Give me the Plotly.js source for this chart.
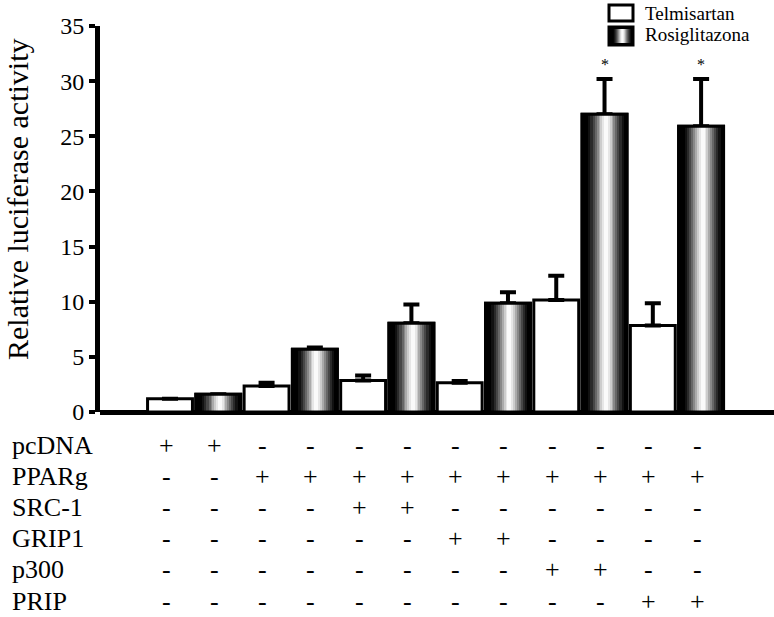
<!DOCTYPE html>
<html>
<head>
<meta charset="utf-8">
<script src="https://cdn.plot.ly/plotly-3.0.1.min.js"></script>
<style>html,body{margin:0;padding:0;background:#fff;}#chart{width:774px;height:617px;}</style>
</head>
<body>
<div id="chart"></div>
<script>
// ---- data ----
const positions = [1,2,3,4,5,6,7,8,9,10,11,12];
const telmiX = [1,3,5,7,9,11];
const telmiY = [1.2, 2.35, 2.85, 2.65, 10.15, 7.85];
const telmiErr = [0, 0.3, 0.45, 0.15, 2.2, 2.0];
const rosiX = [2,4,6,8,10,12];
const rosiY = [1.6, 5.7, 8.05, 9.85, 27.0, 25.9];
const rosiErr = [0, 0.15, 1.7, 1.0, 3.2, 4.3];
const starX = [10, 12];
const starY = [31.5, 31.5];
const seriesNames = ["Telmisartan", "Rosiglitazona"];
const rowLabels = ["pcDNA", "PPARg", "SRC-1", "GRIP1", "p300", "PRIP"];
const rowPcDNA = ["+","+","-","-","-","-","-","-","-","-","-","-"];
const rowPPARg = ["-","-","+","+","+","+","+","+","+","+","+","+"];
const rowSRC1  = ["-","-","-","-","+","+","-","-","-","-","-","-"];
const rowGRIP1 = ["-","-","-","-","-","-","+","+","-","-","-","-"];
const rowP300  = ["-","-","-","-","-","-","-","-","+","+","-","-"];
const rowPRIP  = ["-","-","-","-","-","-","-","-","-","-","+","+"];
const tableRows = [rowPcDNA, rowPPARg, rowSRC1, rowGRIP1, rowP300, rowPRIP];
const yTicks = [0,5,10,15,20,25,30,35];

// ---- styling ----
const FONT = '"Liberation Serif", "Times New Roman", serif';
const BW = 0.93;
const gradLayers = [
  [0.80, '#111111'], [0.70, '#2a2a2a'], [0.60, '#474747'], [0.50, '#676767'],
  [0.41, '#888888'], [0.33, '#aaaaaa'], [0.25, '#cccccc'], [0.17, '#e6e6e6'], [0.09, '#fafafa']
];

const traces = [];
traces.push({
  type: 'bar', x: telmiX, y: telmiY, width: BW, name: seriesNames[0], showlegend: false,
  marker: {color: '#ffffff', line: {color: '#000', width: 3}},
  error_y: {type: 'data', symmetric: false, array: telmiErr, arrayminus: telmiErr.map(() => 0),
            color: '#000', thickness: 4, width: 8},
  hoverinfo: 'skip'
});
traces.push({
  type: 'bar', x: rosiX, y: rosiY, width: BW, name: seriesNames[1], showlegend: false,
  marker: {color: '#000000', line: {color: '#000', width: 3}},
  error_y: {type: 'data', symmetric: false, array: rosiErr, arrayminus: rosiErr.map(() => 0),
            color: '#000', thickness: 4, width: 8},
  hoverinfo: 'skip'
});
gradLayers.forEach(([f, c]) => {
  traces.push({
    type: 'bar', x: rosiX, y: rosiY, width: BW * f, offset: -BW * f / 2 + 0.03, showlegend: false,
    marker: {color: c, line: {width: 0}}, hoverinfo: 'skip'
  });
});
traces.push({
  type: 'bar', x: rosiX, y: rosiY, width: BW, showlegend: false,
  marker: {color: 'rgba(0,0,0,0)', line: {color: '#000', width: 3}}, hoverinfo: 'skip'
});

// ---- annotations ----
const ann = [];
const plotTop = 26, plotBottom = 412, plotLeft = 100, plotRight = 774;
const py2paper = py => (plotBottom - py) / (plotBottom - plotTop);
const px2paper = px => (px - plotLeft) / (plotRight - plotLeft);
// y-axis title
ann.push({xref: 'paper', yref: 'paper', x: px2paper(17), y: py2paper(199), text: 'Relative luciferase activity',
  textangle: -90, showarrow: false, font: {family: FONT, size: 30, color: '#000'},
  xanchor: 'center', yanchor: 'middle', borderpad: 0});
// stars
starX.forEach((x, i) => ann.push({x: x, y: starY[i], xref: 'x', yref: 'y', text: '*', showarrow: false,
  font: {family: FONT, size: 16, color: '#000'}, yanchor: 'middle'}));
// table
const rowPx0 = 445, rowStep = 31.2;
rowLabels.forEach((lab, r) => {
  const yp = py2paper(rowPx0 + r * rowStep);
  ann.push({xref: 'paper', yref: 'paper', x: px2paper(11), y: yp, text: lab, showarrow: false,
    xanchor: 'left', yanchor: 'middle', borderpad: 0, font: {family: FONT, size: 26, color: '#000'}});
  tableRows[r].forEach((s, c) => {
    ann.push({xref: 'x', yref: 'paper', x: positions[c], y: yp, text: s, showarrow: false,
      xanchor: 'center', yanchor: 'middle', xshift: -4, borderpad: 0,
      font: {family: FONT, size: 26, color: '#000'}});
  });
});
// legend text
ann.push({xref: 'paper', yref: 'paper', x: px2paper(643), y: py2paper(13), text: seriesNames[0],
  showarrow: false, xanchor: 'left', yanchor: 'middle', font: {family: FONT, size: 19, color: '#000'}});
ann.push({xref: 'paper', yref: 'paper', x: px2paper(643), y: py2paper(35), text: seriesNames[1],
  showarrow: false, xanchor: 'left', yanchor: 'middle', font: {family: FONT, size: 19, color: '#000'}});

// ---- legend boxes (shapes) ----
const shapes = [];
const lx0 = px2paper(609), lx1 = px2paper(633);
shapes.push({type: 'rect', xref: 'paper', yref: 'paper', x0: lx0, x1: lx1, y0: py2paper(21), y1: py2paper(5),
  fillcolor: '#fff', line: {color: '#000', width: 3}});
shapes.push({type: 'rect', xref: 'paper', yref: 'paper', x0: lx0, x1: lx1, y0: py2paper(45), y1: py2paper(27),
  fillcolor: '#000', line: {color: '#000', width: 3}});
const lc = (lx0 + lx1) / 2 + 0.002, lw = (lx1 - lx0);
gradLayers.forEach(([f, c]) => {
  shapes.push({type: 'rect', xref: 'paper', yref: 'paper', x0: lc - lw * f * 0.45, x1: lc + lw * f * 0.45,
    y0: py2paper(43), y1: py2paper(29), fillcolor: c, line: {width: 0}});
});

const layout = {
  width: 774, height: 617,
  margin: {l: plotLeft, r: 0, t: plotTop, b: 617 - plotBottom, pad: 0},
  paper_bgcolor: '#fff', plot_bgcolor: '#fff',
  barmode: 'overlay', bargap: 0,
  showlegend: false,
  font: {family: FONT, color: '#000'},
  xaxis: {range: [-0.45, 13.51], showgrid: false, zeroline: false, showticklabels: false, ticks: '',
          showline: false, fixedrange: true},
  yaxis: {range: [0, 35], tickvals: yTicks, ticktext: yTicks.map(String), showgrid: false, zeroline: true,
          zerolinecolor: '#000', zerolinewidth: 5, showline: true, linecolor: '#000', linewidth: 5,
          ticks: 'outside', ticklen: 6, tickwidth: 4, tickcolor: '#000',
          tickfont: {family: FONT, size: 24, color: '#000'}, fixedrange: true},
  annotations: ann,
  shapes: shapes
};

Plotly.newPlot('chart', traces, layout, {displayModeBar: false, staticPlot: true});
</script>
</body>
</html>
